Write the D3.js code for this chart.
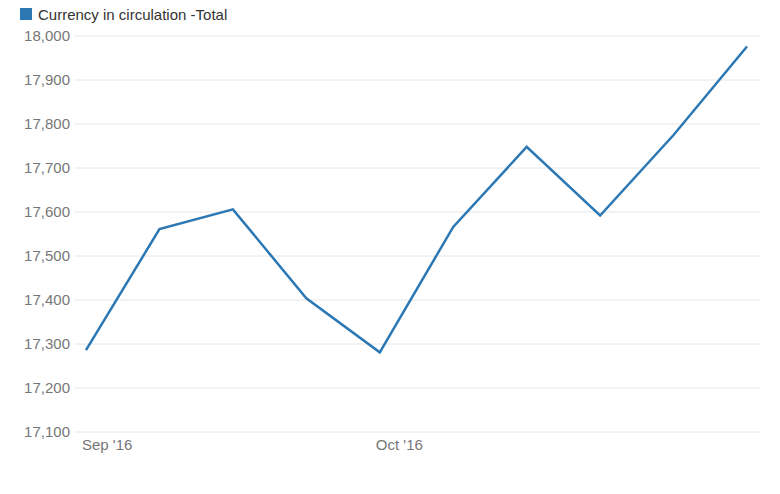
<!DOCTYPE html>
<html><head><meta charset="utf-8">
<script src="https://cdn.jsdelivr.net/npm/d3@7/dist/d3.min.js"></script>
<style>body{margin:0;background:#fff;font-family:Arial,"Liberation Sans",sans-serif;}</style>
</head><body>
<svg id="c" width="780" height="494"></svg>
<script>
const seriesName = "Currency in circulation -Total";
const categories = ["2016-09-02","2016-09-09","2016-09-16","2016-09-23","2016-09-30","2016-10-07","2016-10-14","2016-10-21","2016-10-28","2016-11-04"];
const values = [17286, 17561, 17606, 17404, 17281, 17566, 17748, 17592, 17775, 17976];
const xTickIndex = [0, 4];
const xTickLabels = ["Sep '16", "Oct '16"];
const yTicks = [17100,17200,17300,17400,17500,17600,17700,17800,17900,18000];

const svg = d3.select("#c");
const color = "#2b78b4";
const x = d3.scalePoint().domain(categories).range([86, 747]);
const y = d3.scaleLinear().domain([17100, 18000]).range([432, 36]);
const fmt = d3.format(",");

// grid
svg.append("g").selectAll("line").data(yTicks).join("line")
  .attr("x1", 75).attr("x2", 760)
  .attr("y1", d => y(d)).attr("y2", d => y(d))
  .attr("stroke", "#e6e6e6").attr("stroke-width", 1);

// y labels
svg.append("g").selectAll("text").data(yTicks).join("text")
  .attr("x", 70).attr("y", d => y(d) + 5)
  .attr("text-anchor", "end").attr("font-size", 15).attr("fill", "#777")
  .text(d => fmt(d));

// x labels
svg.append("g").selectAll("text").data(xTickIndex).join("text")
  .attr("x", (d) => x(categories[d]) - 4).attr("y", 450)
  .attr("text-anchor", "start").attr("font-size", 15).attr("fill", "#777")
  .text((d, i) => xTickLabels[i]);

// line
const line = d3.line().x((d, i) => x(categories[i])).y(d => y(d));
svg.append("path").datum(values).attr("d", line)
  .attr("fill", "none").attr("stroke", color).attr("stroke-width", 2.5)
  .attr("stroke-linejoin", "miter");

// legend
svg.append("rect").attr("x", 20).attr("y", 8).attr("width", 12).attr("height", 12).attr("fill", color);
svg.append("text").attr("x", 38).attr("y", 20).attr("font-size", 15).attr("fill", "#333").text(seriesName);
</script>
</body></html>
